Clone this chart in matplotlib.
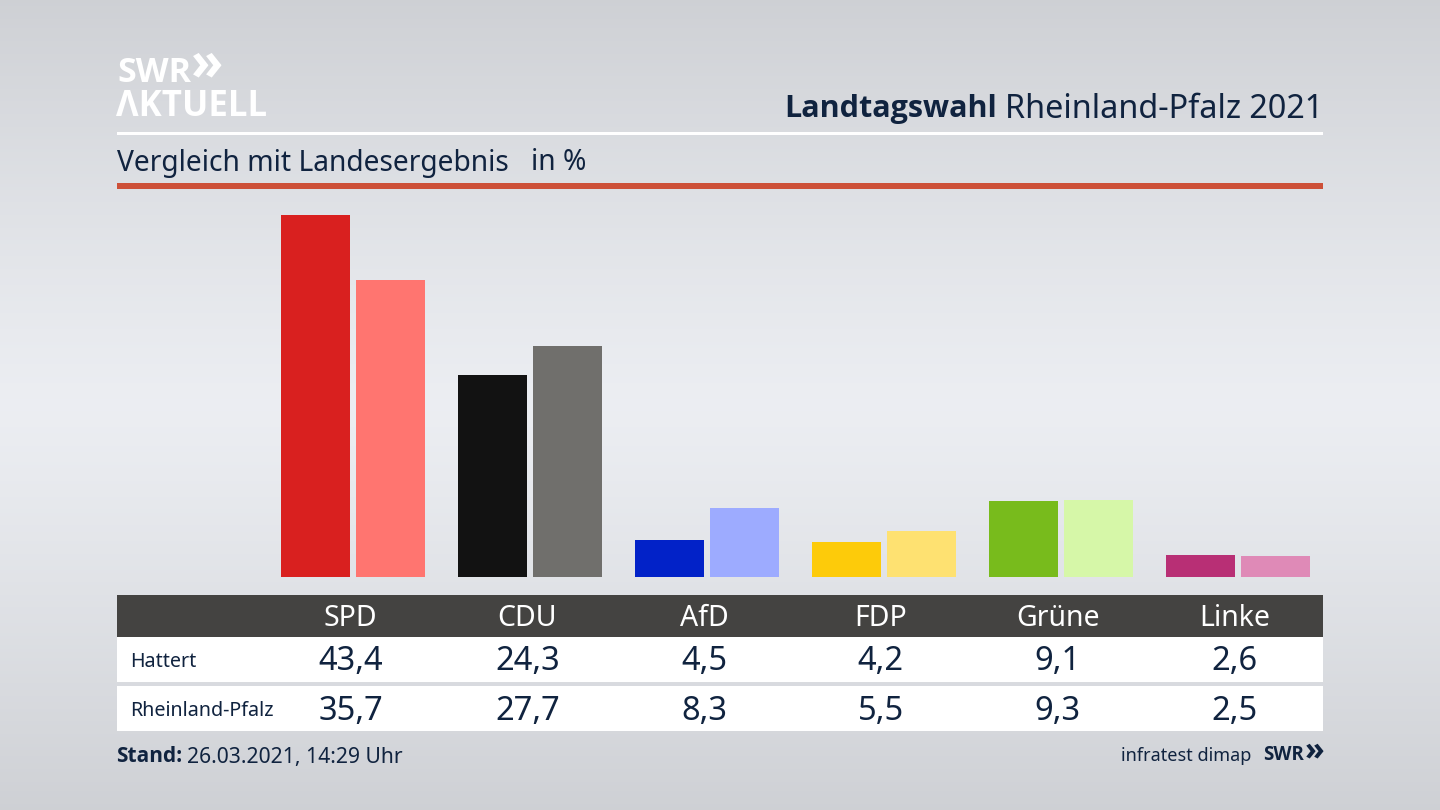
import numpy as np
import matplotlib
matplotlib.use("Agg")
import matplotlib.pyplot as plt
from matplotlib.patches import Rectangle

plt.rcParams['font.family'] = ['Noto Sans', 'DejaVu Sans']
BOLD = ['Open Sans', 'DejaVu Sans']

parties = ["SPD", "CDU", "AfD", "FDP", "Grüne", "Linke"]
hattert = [43.4, 24.3, 4.5, 4.2, 9.1, 2.6]
land = [35.7, 27.7, 8.3, 5.5, 9.3, 2.5]
hattert_colors = ["#d9201f", "#121212", "#0222c8", "#fdcb0a", "#78bb1c", "#b82f75"]
land_colors = ["#ff7570", "#706f6c", "#9dabff", "#fee171", "#d6f7a8", "#df8ab7"]
row_names = ["Hattert", "Rheinland-Pfalz"]

NAVY = "#10233f"
W, H = 1440, 810

fig = plt.figure(figsize=(W / 100, H / 100), dpi=100)

# hintergrund + alles in pixel-koordinaten
bg = fig.add_axes([0, 0, 1, 1])
bg.set_xlim(0, W)
bg.set_ylim(H, 0)
bg.axis("off")
t = np.abs(np.linspace(0, 1, 256) - 0.5) * 2
grad = (0.925 - 0.115 * t ** 1.2)[:, None]
rgb = np.dstack([grad, grad + 0.008, grad + 0.025])
bg.imshow(np.clip(rgb, 0, 1), extent=[0, W, H, 0], aspect="auto", zorder=0)

# linien oben
bg.add_patch(Rectangle((117, 132), 1206, 3, color="white", lw=0, zorder=2))
bg.add_patch(Rectangle((117, 183), 1206, 6, color="#cd5038", lw=0, zorder=2))

# logo
bg.text(117, 82, "SWR", color="white", fontsize=24.5, fontweight="bold", family=BOLD, va="baseline", ha="left", zorder=3)
bg.text(191, 79, "»", color="white", fontsize=38, fontweight="bold", family=BOLD, va="baseline", ha="left", zorder=3)
bg.text(116, 116, "ΛKTUELL", color="white", fontsize=25, fontweight="bold", family=BOLD, va="baseline", ha="left", zorder=3)

# titel
bg.text(1323, 109, "Rheinland-Pfalz 2021", color=NAVY, fontsize=23.3, va="center", ha="right", zorder=3)
bg.text(997, 109, "Landtagswahl", color=NAVY, fontsize=22, fontweight="bold", family=BOLD, va="center", ha="right", zorder=3)
bg.text(117, 163, "Vergleich mit Landesergebnis", color=NAVY, fontsize=20.3, va="center", ha="left", zorder=3)
bg.text(531, 163, "in %", color=NAVY, fontsize=20.3, va="center", ha="left", zorder=3)

# balken
ax = fig.add_axes([117 / W, 1 - 577 / H, 1206 / W, (577 - 190) / H])
ax.patch.set_alpha(0)
ax.axis("off")
ax.set_xlim((117 - 353) / 177, (1323 - 353) / 177)
ax.set_ylim(0, 387 / 8.33)
x = np.arange(len(parties))
ax.bar(x - 0.212, hattert, width=0.39, color=hattert_colors)
ax.bar(x + 0.212, land, width=0.39, color=land_colors)

# tabelle
bg.add_patch(Rectangle((117, 595), 1206, 42, color="#444341", lw=0, zorder=2))
bg.add_patch(Rectangle((117, 637), 1206, 45, color="white", lw=0, zorder=2))
bg.add_patch(Rectangle((117, 686), 1206, 45, color="white", lw=0, zorder=2))
for i, p in enumerate(parties):
    cx = 350.5 + i * 176.8
    bg.text(cx, 618, p, color="white", fontsize=20.5, va="center", ha="center", zorder=3)
    bg.text(cx, 662, f"{hattert[i]:.1f}".replace(".", ","), color=NAVY, fontsize=23.5, va="center", ha="center", zorder=3)
    bg.text(cx, 711, f"{land[i]:.1f}".replace(".", ","), color=NAVY, fontsize=23.5, va="center", ha="center", zorder=3)
bg.text(130, 662, row_names[0], color=NAVY, fontsize=14.2, va="center", ha="left", zorder=3)
bg.text(130, 711, row_names[1], color=NAVY, fontsize=14.2, va="center", ha="left", zorder=3)

# fuss
bg.text(116, 757, "Stand:", color=NAVY, fontsize=15, fontweight="bold", family=BOLD, va="center", ha="left", zorder=3)
bg.text(187, 757, "26.03.2021, 14:29 Uhr", color=NAVY, fontsize=15.2, va="center", ha="left", zorder=3)
bg.text(1251, 756, "infratest dimap", color=NAVY, fontsize=13, va="center", ha="right", zorder=3)
bg.text(1263, 760, "SWR", color=NAVY, fontsize=13.5, fontweight="bold", family=BOLD, va="baseline", ha="left", zorder=3)
bg.text(1305, 759, "»", color=NAVY, fontsize=23, fontweight="bold", family=BOLD, va="baseline", ha="left", zorder=3)

fig.savefig("out.png", dpi=100)
